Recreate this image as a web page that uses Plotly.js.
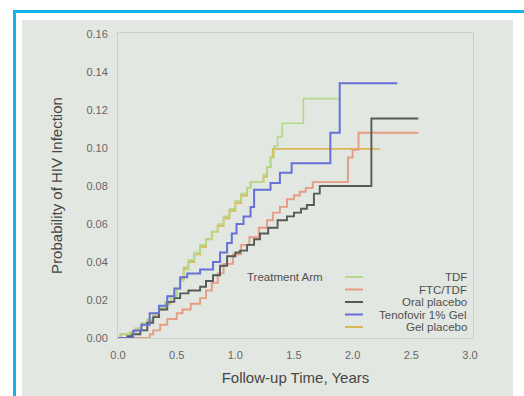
<!DOCTYPE html>
<html>
<head>
<meta charset="utf-8">
<script src="https://cdn.plot.ly/plotly-3.0.1.min.js"></script>
<style>
  html, body { margin:0; padding:0; background:#ffffff; }
  #wrap { position:relative; width:524px; height:396px; overflow:hidden; background:#ffffff; }
  #bTop { position:absolute; left:13px; top:10px; width:511px; height:3px; background:#12b4ee; }
  #bLeft { position:absolute; left:13px; top:10px; width:3px; height:386px; background:#12b4ee; }
  #panel { position:absolute; left:22px; top:20px; width:491px; height:376px; background:#e3e7e1; }
  #chart { position:absolute; left:0; top:0; width:524px; height:396px; }
</style>
</head>
<body>
<div id="wrap">
  <div id="bTop"></div>
  <div id="bLeft"></div>
  <div id="panel"></div>
  <div id="chart"></div>
</div>
<script>
// ---- data (years, cumulative probability of HIV infection) ----
const seriesNames = ["TDF", "FTC/TDF", "Oral placebo", "Tenofovir 1% Gel", "Gel placebo"];
const seriesColors = ["#b3d98a", "#e59c80", "#555a58", "#6670d6", "#d9b855"];

const tdfX = [0, 0.03, 0.10, 0.15, 0.20, 0.25, 0.30, 0.35, 0.40, 0.45, 0.50, 0.53, 0.56, 0.60, 0.65, 0.70, 0.75, 0.80, 0.85, 0.90, 0.95, 1.00, 1.05, 1.10, 1.13, 1.24, 1.27, 1.30, 1.33, 1.36, 1.40, 1.58, 1.90];
const tdfY = [0, 0.002, 0.003, 0.005, 0.008, 0.010, 0.013, 0.016, 0.019, 0.022, 0.026, 0.030, 0.036, 0.041, 0.045, 0.049, 0.052, 0.056, 0.060, 0.064, 0.068, 0.072, 0.076, 0.079, 0.082, 0.086, 0.090, 0.095, 0.101, 0.106, 0.113, 0.126, 0.126];

const ftcX = [0, 0.25, 0.27, 0.30, 0.36, 0.42, 0.50, 0.55, 0.62, 0.70, 0.75, 0.80, 0.85, 0.90, 0.98, 1.05, 1.12, 1.20, 1.27, 1.32, 1.38, 1.44, 1.50, 1.55, 1.60, 1.66, 1.96, 2.00, 2.05, 2.56];
const ftcY = [0, 0, 0.002, 0.004, 0.007, 0.010, 0.013, 0.015, 0.018, 0.021, 0.025, 0.029, 0.034, 0.039, 0.044, 0.049, 0.053, 0.058, 0.062, 0.066, 0.069, 0.073, 0.075, 0.077, 0.079, 0.082, 0.095, 0.099, 0.108, 0.108];

const oralX = [0, 0.08, 0.12, 0.19, 0.25, 0.30, 0.35, 0.42, 0.48, 0.53, 0.60, 0.70, 0.75, 0.81, 0.87, 0.93, 1.00, 1.04, 1.10, 1.16, 1.21, 1.28, 1.36, 1.44, 1.50, 1.56, 1.61, 1.67, 1.72, 2.16, 2.56];
const oralY = [0, 0.001, 0.002, 0.004, 0.008, 0.011, 0.015, 0.019, 0.021, 0.0235, 0.025, 0.027, 0.030, 0.033, 0.038, 0.043, 0.045, 0.046, 0.049, 0.052, 0.055, 0.058, 0.062, 0.064, 0.066, 0.068, 0.070, 0.076, 0.080, 0.1155, 0.1155];

const gelX = [0, 0.13, 0.20, 0.27, 0.35, 0.42, 0.48, 0.53, 0.59, 0.70, 0.81, 0.87, 0.93, 0.97, 1.01, 1.07, 1.13, 1.16, 1.30, 1.38, 1.48, 1.81, 1.89, 2.38];
const gelY = [0, 0.004, 0.007, 0.013, 0.017, 0.022, 0.026, 0.032, 0.034, 0.036, 0.040, 0.045, 0.050, 0.055, 0.060, 0.064, 0.069, 0.078, 0.0816, 0.087, 0.092, 0.108, 0.134, 0.134];

const gelPlX = [0, 0.02, 0.10, 0.15, 0.20, 0.25, 0.30, 0.35, 0.40, 0.45, 0.50, 0.53, 0.56, 0.60, 0.65, 0.70, 0.75, 0.80, 0.85, 0.90, 0.95, 1.00, 1.05, 1.10, 1.13, 1.24, 1.27, 1.30, 1.32, 2.23];
const gelPlY = [0, 0.002, 0.003, 0.005, 0.007, 0.009, 0.012, 0.015, 0.018, 0.022, 0.026, 0.031, 0.037, 0.040, 0.044, 0.048, 0.052, 0.056, 0.059, 0.063, 0.067, 0.071, 0.075, 0.079, 0.082, 0.085, 0.090, 0.095, 0.0995, 0.0995];

const xTicks = [0, 0.5, 1.0, 1.5, 2.0, 2.5, 3.0];
const yTicks = [0, 0.02, 0.04, 0.06, 0.08, 0.10, 0.12, 0.14, 0.16];

const seriesX = [tdfX, ftcX, oralX, gelX, gelPlX];
const seriesY = [tdfY, ftcY, oralY, gelY, gelPlY];
const widths = [1.7, 1.9, 1.9, 2.0, 1.9];
const drawOrder = [4, 0, 1, 2, 3];

const traces = drawOrder.map(i => ({
  type: "scatter",
  mode: "lines",
  name: seriesNames[i],
  x: seriesX[i],
  y: seriesY[i],
  line: { shape: "hv", color: seriesColors[i], width: widths[i] },
  showlegend: false,
  hoverinfo: "skip"
}));

// plot area geometry (for the hand-built legend)
const W = 524, H = 396, mL = 118, mR = 51, mT = 33, mB = 58;
const pw = W - mL - mR, ph = H - mT - mB;
const px2x = p => (p - mL) / pw;
const py2y = p => (H - mB - p) / ph;

const legTop = 277, legGap = 12.5;
const shapes = [];
const annotations = [{
  text: "Treatment Arm", xref: "paper", yref: "paper",
  x: px2x(245), y: py2y(legTop), xanchor: "left", yanchor: "middle",
  showarrow: false, font: { family: "Liberation Sans, Arial, sans-serif", size: 11.5, color: "#505050" }
}];
seriesNames.forEach((n, i) => {
  const yy = py2y(legTop + i * legGap);
  shapes.push({ type: "line", xref: "paper", yref: "paper", x0: px2x(345), x1: px2x(363), y0: yy, y1: yy,
    line: { color: seriesColors[i], width: 2 } });
  annotations.push({ text: n, xref: "paper", yref: "paper", x: px2x(469), y: yy,
    xanchor: "right", yanchor: "middle", showarrow: false,
    font: { family: "Liberation Sans, Arial, sans-serif", size: 11.5, color: "#505050" } });
});

const layout = {
  width: W, height: H,
  margin: { l: mL, r: mR, t: mT, b: mB, pad: 0 },
  paper_bgcolor: "rgba(0,0,0,0)",
  plot_bgcolor: "#e3e7e1",
  font: { family: "Liberation Sans, Arial, sans-serif", color: "#555" },
  xaxis: {
    range: [0, 3.026], tickvals: xTicks, tickformat: ".1f",
    showgrid: false, zeroline: false, showline: true, mirror: true,
    linecolor: "#cdd1cb", linewidth: 1, ticks: "", ticklabelstandoff: 7,
    tickfont: { size: 11, color: "#666" },
    title: { text: "Follow-up Time, Years", font: { size: 15, color: "#454545" }, standoff: 12 }
  },
  yaxis: {
    range: [0, 0.1605], tickvals: yTicks, tickformat: ".2f",
    showgrid: false, zeroline: false, showline: true, mirror: true,
    linecolor: "#cdd1cb", linewidth: 1, ticks: "", ticklabelstandoff: 7,
    tickfont: { size: 11, color: "#666" },
    title: { text: "Probability of HIV Infection", font: { size: 15, color: "#454545" }, standoff: 20 }
  },
  showlegend: false,
  shapes: shapes,
  annotations: annotations
};

Plotly.newPlot("chart", traces, layout, { displayModeBar: false, staticPlot: true });
</script>
</body>
</html>
